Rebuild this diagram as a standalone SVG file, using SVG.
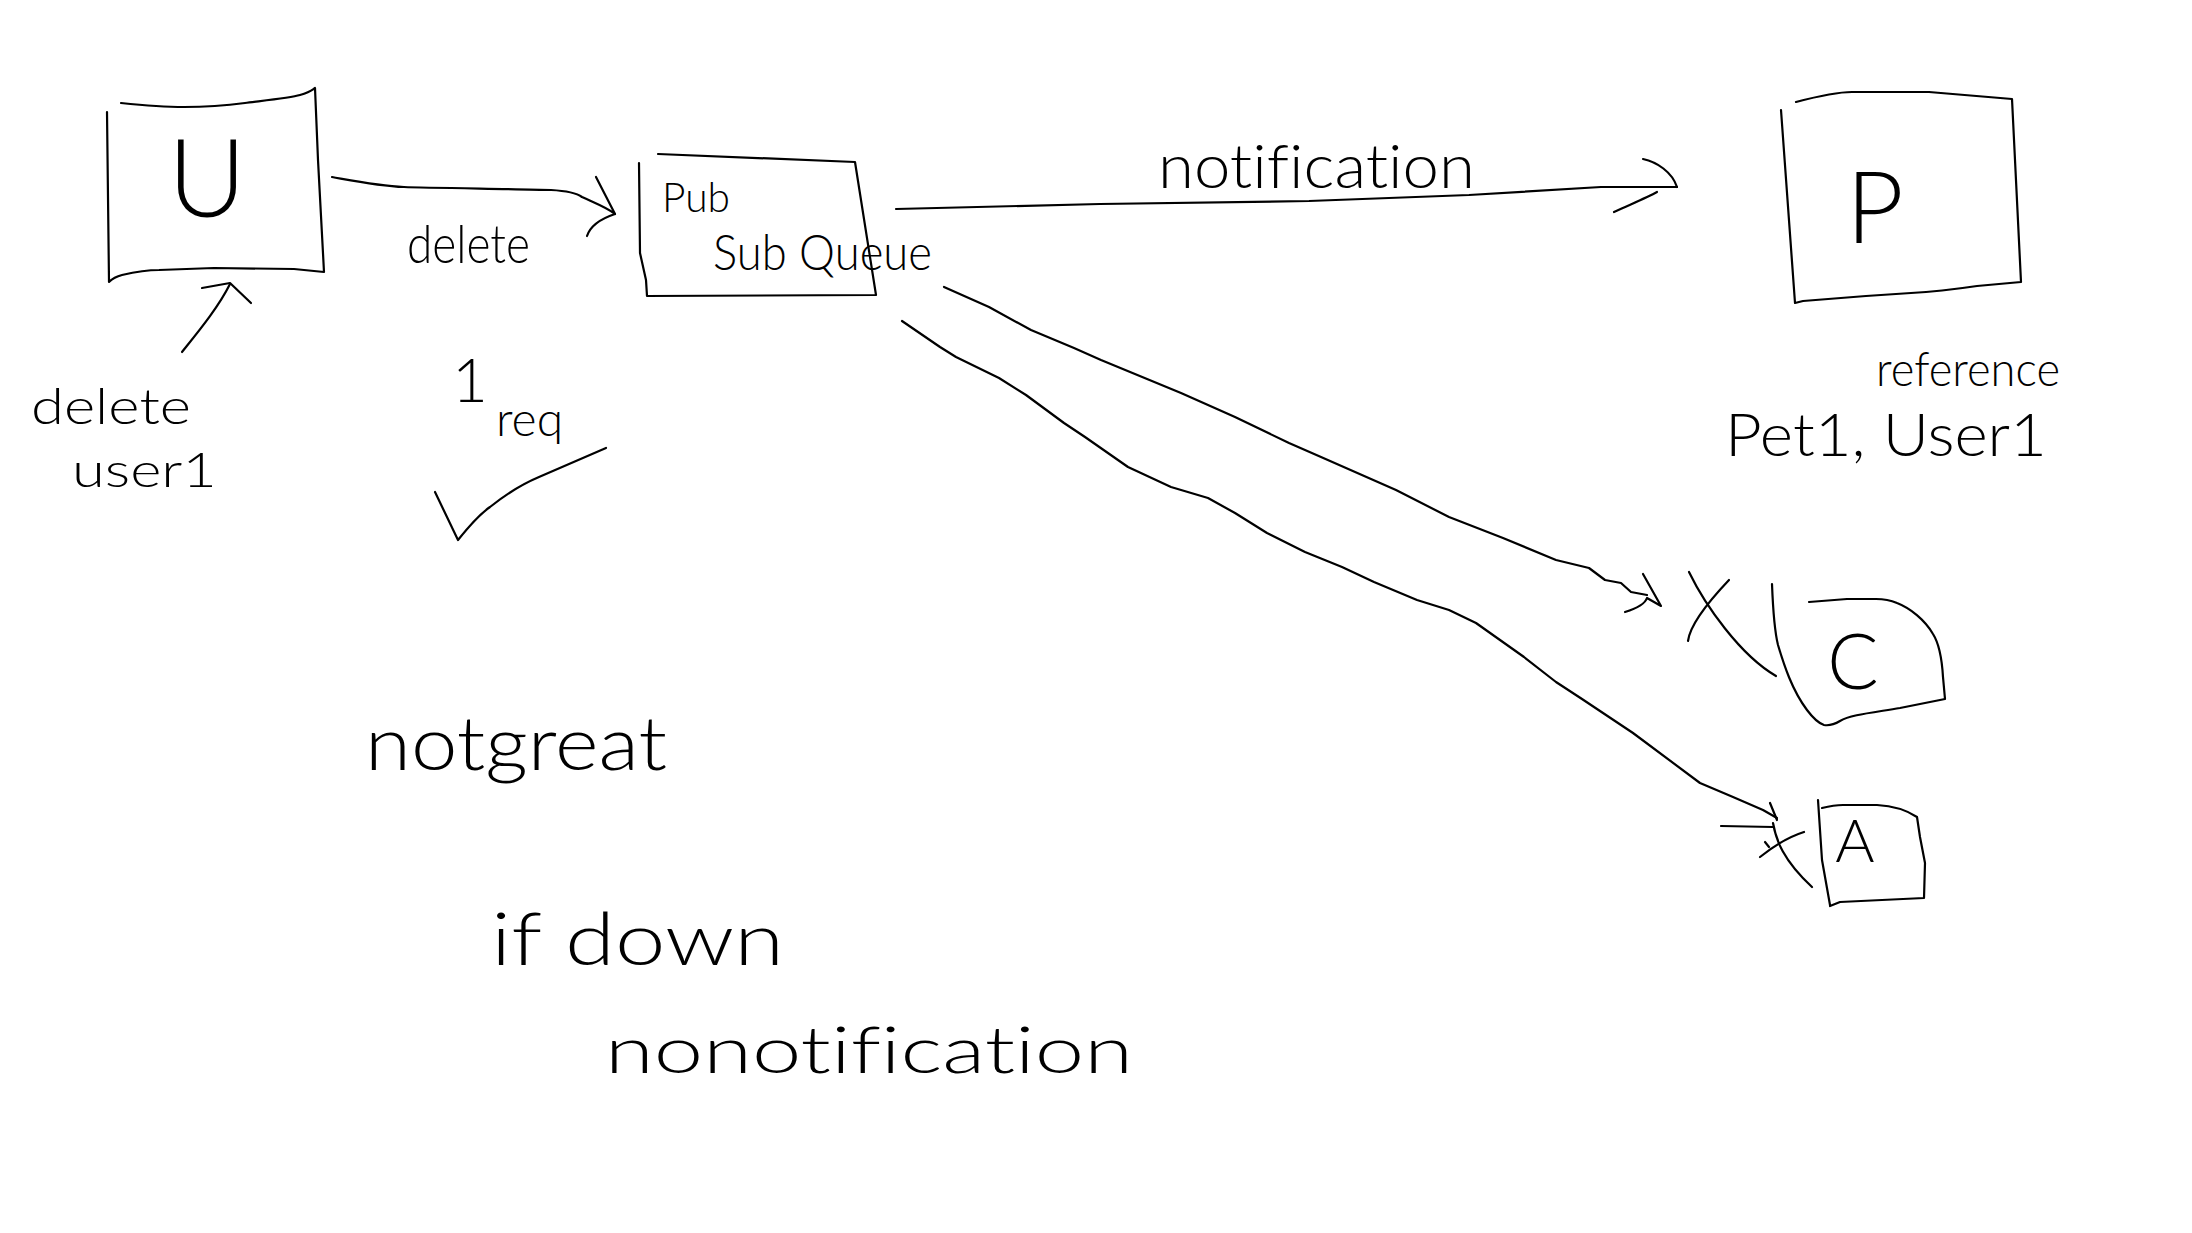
<svg xmlns="http://www.w3.org/2000/svg" width="2192" height="1233" viewBox="0 0 2192 1233">
<style>
.s{fill:none;stroke:#000;stroke-width:2.2;stroke-linecap:round;stroke-linejoin:round}
.t{font-family:Lato,"Liberation Sans",sans-serif;font-weight:300;fill:#000;font-variant-ligatures:none}
</style>
<rect width="2192" height="1233" fill="#fff"/>
<g id="connectors">
  <g id="e-u-pubsub">
    <path class="s" d="M332,177 C360,182 380,186 404,187 S520,189 551,190 C570,191 578,194 582,197 C595,203 608,208 615,214"/>
    <path class="s" d="M596,177 L615,214 C600,219 590,227 587,236"/>
  </g>
  <g id="e-deleteuser-u">
    <path class="s" d="M182,352 C198,332 218,308 230,284"/>
    <path class="s" d="M202,288 L230,283 L251,303"/>
  </g>
  <g id="e-pubsub-p">
    <path class="s" d="M896,209 L1100,204 L1309,201 L1469,195 L1601,187 L1677,187"/>
    <path class="s" d="M1643,159 C1657,162 1672,172 1677,187 M1657,192 C1648,197 1636,202 1614,212"/>
  </g>
  <g id="e-pubsub-c">
    <path class="s" d="M944,287 L989,307 L1031,330 L1074,348 L1101,360 L1181,393 L1235,417 L1289,443 L1321,457 L1396,490 L1449,517 L1503,538 L1556,560 L1589,568 L1605,580 L1621,583 L1631,592 L1647,595"/>
    <path class="s" d="M1643,574 L1661,606 L1647,598 C1645,604 1638,608 1625,612"/>
  </g>
  <g id="e-pubsub-a">
    <path class="s" d="M902,321 L940,347 L956,357 L999,378 L1026,395 L1064,423 L1085,437 L1128,467 L1171,487 L1208,498 L1235,513 L1267,533 L1305,552 L1342,567 L1374,582 L1417,600 L1449,610 L1476,623 L1524,657 L1556,682 L1582,699 L1633,733 L1700,783 L1733,797 L1763,810 L1777,818"/>
    <path class="s" d="M1770,803 L1777,820 M1721,826 L1773,827"/>
  </g>
</g>
<g id="node-U">
  <path class="s" d="M121,103 C150,106 165,107 184,107 S230,105 245,103 S290,98 300,95 S312,90 315,88 L318,160 L324,272 M107,112 L109,282 C114,277 118,276 122,275 C135,272 145,270 159,270 L214,268 L294,269 L324,272"/>
  <text class="t" x="207" y="217" font-size="108" text-anchor="middle">U</text>
</g>
<g id="node-pubsub">
  <path class="s" d="M658,154 L855,162 L876,295 L647,296 L646,280 L640,253 L639,163"/>
  <text class="t" x="662" y="212" font-size="42" textLength="68" lengthAdjust="spacingAndGlyphs">Pub</text>
  <text class="t" x="713" y="270" font-size="50" textLength="219" lengthAdjust="spacingAndGlyphs">Sub Queue</text>
</g>
<g id="node-P">
  <path class="s" d="M1796,102 C1815,97 1835,92 1852,92 L1929,92 L2012,99 L2021,282 L1977,286 C1950,290 1930,292 1911,293 L1866,296 L1803,301 L1795,303 M1781,110 L1795,303"/>
  <text class="t" x="1875" y="243" font-size="100" text-anchor="middle">P</text>
</g>
<g id="node-C">
  <path class="s" d="M1772,584 C1773,610 1775,633 1778,645 C1784,665 1792,690 1807,710 C1813,718 1818,723 1824,725 C1830,726 1835,724 1840,721 C1850,715 1870,713 1900,708 L1945,699 L1943,677 C1942,660 1940,645 1933,634 C1925,620 1910,608 1897,603 C1890,600 1885,599 1876,599 L1847,599 L1809,602"/>
  <text class="t" x="1853" y="689" font-size="76" text-anchor="middle">C</text>
</g>
<g id="node-A">
  <path class="s" d="M1818,800 L1822,860 L1830,905 M1822,808 C1830,806 1836,805 1843,805 L1877,805 C1895,806 1908,811 1917,817 L1920,837 L1925,863 L1924,898 L1840,902 L1830,906"/>
  <text class="t" x="1855" y="862" font-size="60" text-anchor="middle">A</text>
</g>
<g id="labels">
  <text class="t" x="407" y="263" font-size="54" textLength="123" lengthAdjust="spacingAndGlyphs">delete</text>
  <text class="t" x="31" y="424" font-size="50" textLength="160" lengthAdjust="spacingAndGlyphs">delete</text>
  <text class="t" x="72" y="487" font-size="48" textLength="145" lengthAdjust="spacingAndGlyphs">user1</text>
  <text class="t"><tspan x="452" y="402" font-size="62">1</tspan><tspan x="496" y="436" font-size="48">req</tspan></text>
  <text class="t" x="1158" y="188" font-size="62" textLength="317" lengthAdjust="spacingAndGlyphs">notification</text>
  <text class="t" x="1876" y="386" font-size="48" textLength="184" lengthAdjust="spacingAndGlyphs">reference</text>
  <text class="t" x="1725" y="456" font-size="60" textLength="322" lengthAdjust="spacingAndGlyphs">Pet1, User1</text>
  <text class="t" x="365" y="770" font-size="74" textLength="302" lengthAdjust="spacingAndGlyphs">notgreat</text>
  <text class="t" x="491" y="965" font-size="72" textLength="293" lengthAdjust="spacingAndGlyphs">if down</text>
  <text class="t" x="605" y="1073" font-size="66" textLength="528" lengthAdjust="spacingAndGlyphs">nonotification</text>
</g>
<g id="marks">
  <path class="s" d="M435,492 L458,540 C470,525 480,514 490,507 C505,495 520,485 539,477 L606,448"/>
  <path class="s" d="M1689,572 C1705,605 1740,655 1776,676 M1729,580 C1710,600 1690,625 1688,641"/>
  <path class="s" d="M1773,823 C1776,840 1783,860 1812,887 M1760,857 C1770,849 1785,838 1804,832 M1765,842 L1769,847"/>
</g>
</svg>
